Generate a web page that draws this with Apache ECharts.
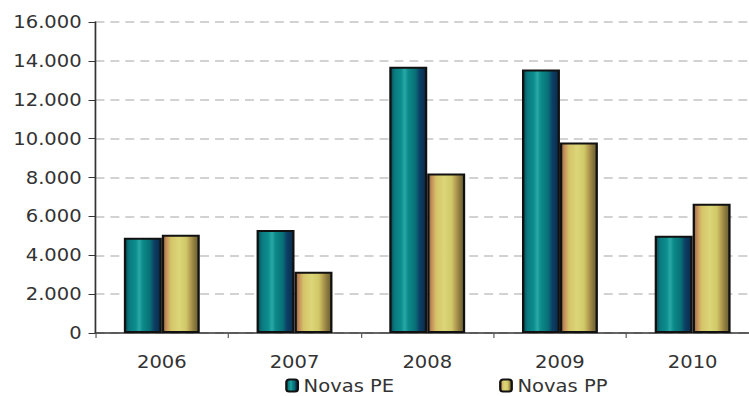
<!DOCTYPE html>
<html>
<head>
<meta charset="utf-8">
<script src="https://cdn.jsdelivr.net/npm/echarts@6/dist/echarts.min.js"></script>
<style>
  html, body { margin: 0; padding: 0; background: #fff; overflow: hidden; }
  body { width: 749px; height: 396px; }
  /* the chart is laid out narrower and widened horizontally, giving the wide lettering */
  #chart {
    width: 670px; height: 396px;
    transform: scaleX(1.15); transform-origin: 0 0;
  }
</style>
</head>
<body>
<div id="chart"></div>
<script>
// Anos
const categories = ['2006', '2007', '2008', '2009', '2010'];
// Novas PE / Novas PP por ano
const novasPE = [4900, 5300, 13700, 13550, 5000];
const novasPP = [5050, 3150, 8200, 9800, 6650];
// Eixo Y
const yMin = 0, yMax = 16000, yStep = 2000;

const fontFamily = 'DejaVu Sans, Verdana, sans-serif';

// Sombreado cilíndrico das barras
const tealFill = {
  type: 'linear', x: 0, y: 0, x2: 1, y2: 0,
  colorStops: [
    { offset: 0.00, color: '#064a55' },
    { offset: 0.12, color: '#0a7a80' },
    { offset: 0.30, color: '#0c8e8e' },
    { offset: 0.40, color: '#2aa8a6' },
    { offset: 0.50, color: '#0c8a8a' },
    { offset: 0.70, color: '#087076' },
    { offset: 0.82, color: '#0c3f66' },
    { offset: 1.00, color: '#0a2a48' }
  ]
};
const yellowFill = {
  type: 'linear', x: 0, y: 0, x2: 1, y2: 0,
  colorStops: [
    { offset: 0.00, color: '#8a6a40' },
    { offset: 0.10, color: '#c8905c' },
    { offset: 0.22, color: '#d4c468' },
    { offset: 0.45, color: '#dcd678' },
    { offset: 0.65, color: '#d0c868' },
    { offset: 0.78, color: '#b0984e' },
    { offset: 0.88, color: '#8a7a3e' },
    { offset: 1.00, color: '#6a5e30' }
  ]
};

const chart = echarts.init(document.getElementById('chart'), null, { renderer: 'svg' });

const fmt = v => String(v).replace(/\B(?=(\d{3})+(?!\d))/g, '.');

const legendText = { fontFamily, fontSize: 17, color: '#333' };

chart.setOption({
  animation: false,
  backgroundColor: '#fff',
  textStyle: { fontFamily },
  grid: { left: 83, top: 22, width: 577, height: 311 },
  legend: [
    {
      data: ['Novas PE'], left: 248, top: 377, padding: 0,
      itemWidth: 10, itemHeight: 12, itemGap: 4,
      textStyle: legendText
    },
    {
      data: ['Novas PP'], left: 434, top: 377, padding: 0,
      itemWidth: 10, itemHeight: 12, itemGap: 4,
      textStyle: legendText
    }
  ],
  xAxis: {
    type: 'category',
    data: categories,
    axisLine: { lineStyle: { color: '#333', width: 1.5 } },
    axisTick: { show: true, length: 5, lineStyle: { color: '#555' } },
    axisLabel: { margin: 20, fontSize: 17, color: '#333', fontFamily }
  },
  yAxis: {
    type: 'value',
    min: yMin, max: yMax, interval: yStep,
    axisLine: { show: true, lineStyle: { color: '#333', width: 1.5 } },
    axisTick: { show: true, length: 6, lineStyle: { color: '#333' } },
    axisLabel: {
      margin: 12, fontSize: 17, color: '#333', fontFamily,
      padding: [9, 0, 0, 0], formatter: fmt
    },
    splitLine: { lineStyle: { color: '#c4c4c4', type: [7.8, 5.2], width: 1.5 } }
  },
  series: [
    {
      name: 'Novas PE', type: 'bar', data: novasPE,
      barWidth: 33, barGap: '0%',
      itemStyle: { color: tealFill, borderColor: '#111', borderWidth: 2 }
    },
    {
      name: 'Novas PP', type: 'bar', data: novasPP,
      barWidth: 33,
      itemStyle: { color: yellowFill, borderColor: '#111', borderWidth: 2 }
    }
  ]
});
</script>
</body>
</html>
